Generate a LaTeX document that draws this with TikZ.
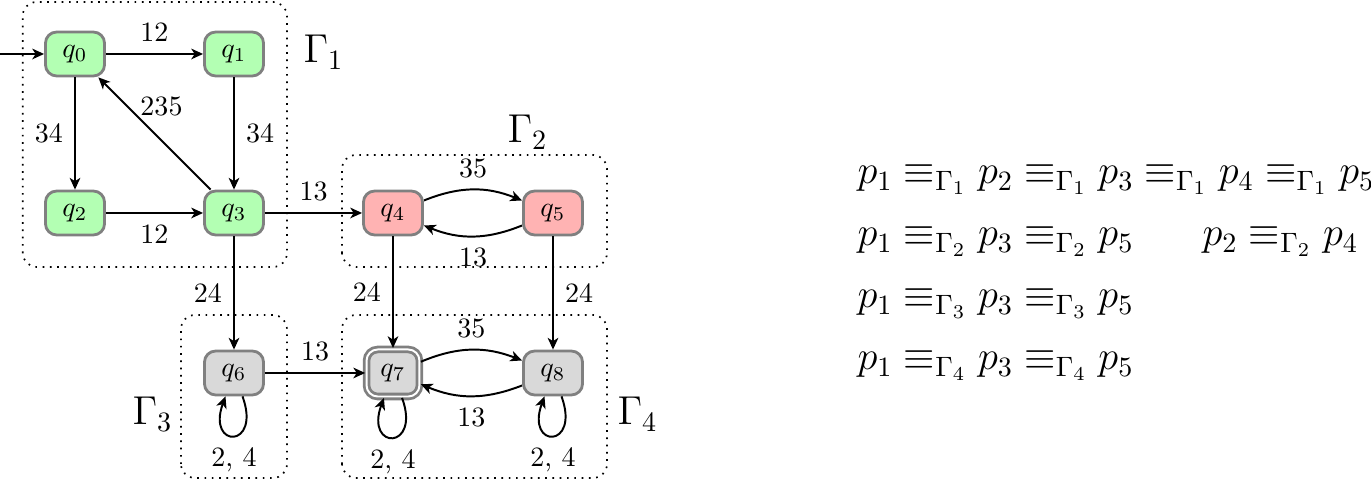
\documentclass[tikz,border=0pt]{standalone}
\usetikzlibrary{arrows.meta}
\definecolor{sgreen}{HTML}{B3FFB3}
\definecolor{sred}{HTML}{FFB3B3}
\definecolor{sgray}{HTML}{D9D9D9}
\definecolor{sborder}{HTML}{808080}
\begin{document}
\begin{tikzpicture}[x=0.3571pt,y=0.3571pt,
  state/.style={draw=sborder, line width=1pt, rounded corners=4pt, minimum width=21.1pt, minimum height=15.7pt, inner sep=0pt},
  gstate/.style={state, fill=sgreen},
  rstate/.style={state, fill=sred},
  ystate/.style={state, fill=sgray},
  edge/.style={-{Stealth[length=4.2pt,width=3.8pt,inset=1.2pt]}, line width=0.7pt},
  lab/.style={inner sep=4pt},
  groupbox/.style={dotted, line width=0.6pt, rounded corners=5pt},
  glab/.style={font=\Large, inner sep=0pt, anchor=base west},
  eqline/.style={font=\Large, inner sep=0pt, anchor=base west}]
\useasboundingbox (0,0) rectangle (1371,481);
% group boxes
\draw[groupbox] (22.7,214) rectangle (287,479);
\draw[groupbox] (342,214) rectangle (607,326);
\draw[groupbox] (181,3) rectangle (287,166);
\draw[groupbox] (342,3) rectangle (607,166);
\node[glab] (G1) at (303,418) {$\Gamma_1$};
\node[glab] (G2) at (507,338) {$\Gamma_2$};
\node[glab] (G3) at (132,56) {$\Gamma_3$};
\node[glab] (G4) at (617,56) {$\Gamma_4$};
% states
\node[gstate] (q0) at (75,427) {$q_0$};
\node[gstate] (q1) at (234,427) {$q_1$};
\node[gstate] (q2) at (75,268) {$q_2$};
\node[gstate] (q3) at (234,268) {$q_3$};
\node[rstate] (q4) at (393,268) {$q_4$};
\node[rstate] (q5) at (553,268) {$q_5$};
\node[ystate] (q6) at (234,108) {$q_6$};
\node[ystate, double=white, double distance=0.7pt, minimum width=18.9pt, minimum height=16.8pt] (q7) at (393,108) {$q_7$};
\node[ystate] (q8) at (553,108) {$q_8$};
\coordinate (init) at (0,427);
% edges
\draw[edge] (init) -- (q0);
\draw[edge] (q0) -- node[lab, above] (l01) {$12$} (q1);
\draw[edge] (q0) -- node[lab, left] (l02) {$34$} (q2);
\draw[edge] (q1) -- node[lab, right] (l13) {$34$} (q3);
\draw[edge] (q3) -- node[lab, above, xshift=2.5pt, yshift=2pt] (l30) {$235$} (q0);
\draw[edge] (q2) -- node[lab, below] (l23) {$12$} (q3);
\draw[edge] (q3) -- node[lab, above] (l34) {$13$} (q4);
\draw[edge] (q3) -- node[lab, left] (l36) {$24$} (q6);
\draw[edge] (q4) to[bend left=22] node[lab, above] (l45) {$35$} (q5);
\draw[edge] (q5) to[bend left=22] node[lab, below] (l54) {$13$} (q4);
\draw[edge] (q4) -- node[lab, left] (l47) {$24$} (q7);
\draw[edge] (q5) -- node[lab, right] (l58) {$24$} (q8);
\draw[edge] (q6) -- node[lab, above] (l67) {$13$} (q7);
\draw[edge] (q7) to[bend left=22] node[lab, above] (l78) {$35$} (q8);
\draw[edge] (q8) to[bend left=22] node[lab, below] (l87) {$13$} (q7);
\draw[edge] (q6) to[out=-70, in=-110, distance=20pt] node[lab, below] (l66) {2, 4} (q6);
\draw[edge] (q7) to[out=-70, in=-110, distance=20pt] node[lab, below] (l77) {2, 4} (q7);
\draw[edge] (q8) to[out=-70, in=-110, distance=20pt] node[lab, below] (l88) {2, 4} (q8);
% equivalences
\node[eqline] (e1) at (857,297) {$p_1 \equiv_{\Gamma_1} p_2 \equiv_{\Gamma_1} p_3 \equiv_{\Gamma_1} p_4 \equiv_{\Gamma_1} p_5$};
\node[eqline] (e2) at (857,235) {$p_1 \equiv_{\Gamma_2} p_3 \equiv_{\Gamma_2} p_5$};
\node[eqline] (e2b) at (1202,235) {$p_2 \equiv_{\Gamma_2} p_4$};
\node[eqline] (e3) at (857,173) {$p_1 \equiv_{\Gamma_3} p_3 \equiv_{\Gamma_3} p_5$};
\node[eqline] (e4) at (857,111) {$p_1 \equiv_{\Gamma_4} p_3 \equiv_{\Gamma_4} p_5$};
\end{tikzpicture}
\end{document}
